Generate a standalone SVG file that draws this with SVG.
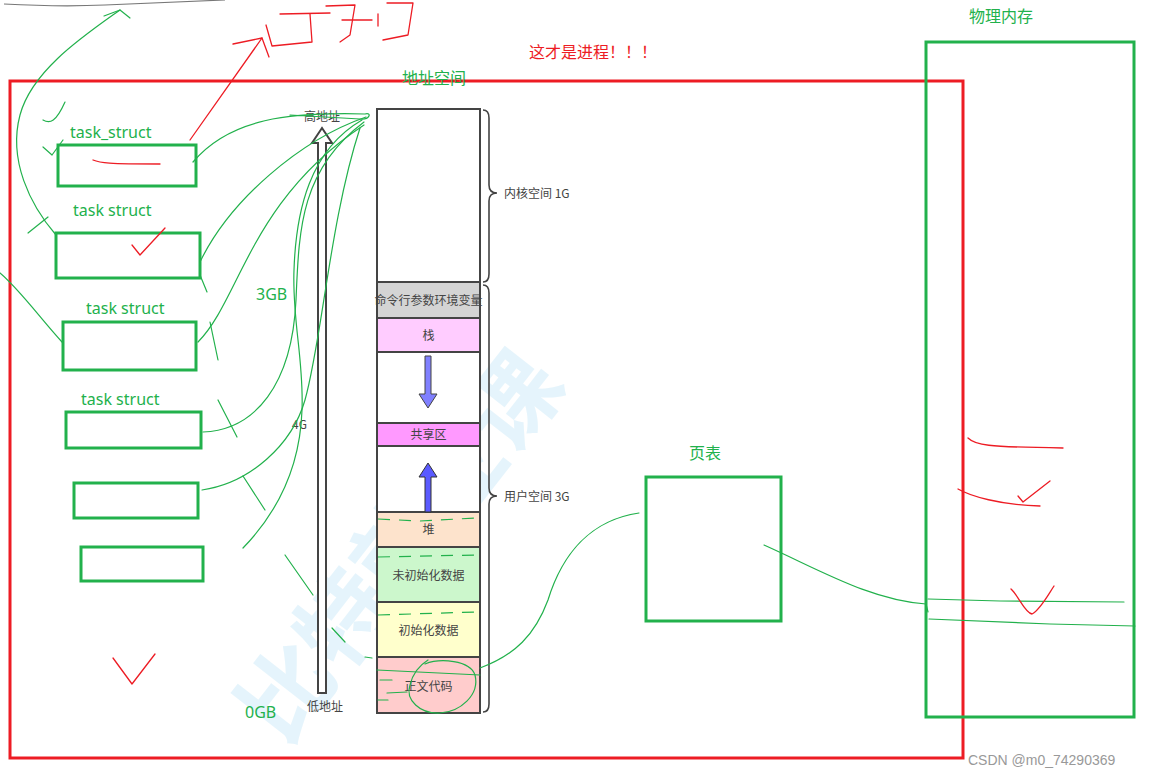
<svg xmlns="http://www.w3.org/2000/svg" width="1158" height="777" viewBox="0 0 1158 777">
<style>
.gbox{fill:none;stroke:#22b14c;stroke-width:3}
.rbox{fill:none;stroke:#ed1c24;stroke-width:3}
.seg{stroke:#444;stroke-width:2}
.gl{fill:none;stroke:#22b14c;stroke-width:1.2;stroke-linecap:round;stroke-linejoin:round}
.rl{fill:none;stroke:#ed1c24;stroke-width:1.3;stroke-linecap:round;stroke-linejoin:round}
.dash{fill:none;stroke:#22b14c;stroke-width:1.2;stroke-dasharray:12 9}
.gt{font-family:"Noto Sans","Noto Sans CJK SC",sans-serif;fill:#22b14c;font-size:16px}
.mt{font-family:"Noto Sans CJK SC","Noto Sans",sans-serif;fill:#444;font-size:12px}
.rt{font-family:"Noto Sans CJK SC",sans-serif;fill:#ed1c24;font-size:16px}
</style>
<rect width="1158" height="777" fill="#fff"/>

<!-- watermark -->
<g id="watermark" opacity="0.4">
<text x="0" y="0" transform="translate(285,748) rotate(-52)" font-family="Noto Sans CJK SC,sans-serif" font-size="92" font-weight="bold" fill="#bfe6f8">比特就业课</text>
</g>

<!-- process boundary -->
<g id="process">
<rect class="rbox" x="10" y="81" width="953" height="677"/>
<text class="rt" x="529" y="58">这才是进程！！！</text>
</g>

<g id="addr-space-title"><text class="gt" x="402" y="84" font-family="Noto Sans CJK SC,sans-serif">地址空间</text></g>

<!-- task structs -->
<g id="task1"><rect class="gbox" x="58" y="145" width="138" height="41"/><text class="gt" x="70" y="138">task_struct</text></g>
<g id="task2"><rect class="gbox" x="56" y="233" width="144" height="45"/><text class="gt" x="73" y="216">task struct</text></g>
<g id="task3"><rect class="gbox" x="63" y="322" width="133" height="48"/><text class="gt" x="86" y="314">task struct</text></g>
<g id="task4"><rect class="gbox" x="66" y="412" width="135" height="36"/><text class="gt" x="81" y="405">task struct</text></g>
<g id="task5"><rect class="gbox" x="74" y="483" width="124" height="35"/></g>
<g id="task6"><rect class="gbox" x="81" y="547" width="122" height="34"/></g>

<g id="labels-gb">
<text class="gt" x="256" y="300">3GB</text>
<text class="gt" x="245" y="718">0GB</text>
<text class="mt" x="292" y="429">4G</text>
</g>

<!-- address arrow -->
<g id="addr-arrow">
<polygon points="318,693 318,143 312,143 322,128 332,143 326,143 326,693" fill="#fff" stroke="#444" stroke-width="2"/>
<text class="mt" x="322" y="121" text-anchor="middle">高地址</text>
<text class="mt" x="325" y="711" text-anchor="middle" font-size="13">低地址</text>
</g>

<!-- memory layout column -->
<g id="memory-layout">
<rect class="seg" x="377" y="109" width="103" height="173" fill="#fff"/>
<rect class="seg" x="377" y="282" width="103" height="36" fill="#d4d4d4"/>
<rect class="seg" x="377" y="318" width="103" height="34" fill="#ffccff"/>
<rect class="seg" x="377" y="352" width="103" height="71" fill="#fff"/>
<rect class="seg" x="377" y="423" width="103" height="23" fill="#ff99ff"/>
<rect class="seg" x="377" y="446" width="103" height="66" fill="#fff"/>
<rect class="seg" x="377" y="512" width="103" height="35" fill="#fde3cc"/>
<rect class="seg" x="377" y="547" width="103" height="55" fill="#ccf7cc"/>
<rect class="seg" x="377" y="602" width="103" height="55" fill="#ffffcc"/>
<rect class="seg" x="377" y="657" width="103" height="56" fill="#ffcccc"/>
<text class="mt" x="428.5" y="305" text-anchor="middle" font-size="11.5">命令行参数环境变量</text>
<text class="mt" x="428.5" y="340" text-anchor="middle">栈</text>
<text class="mt" x="428.5" y="439" text-anchor="middle">共享区</text>
<text class="mt" x="428.5" y="534" text-anchor="middle">堆</text>
<text class="mt" x="428.5" y="580" text-anchor="middle">未初始化数据</text>
<text class="mt" x="428.5" y="635" text-anchor="middle">初始化数据</text>
<text class="mt" x="428.5" y="691" text-anchor="middle">正文代码</text>
<polygon points="425,356 431,356 431,394 437,394 428,408 419,394 425,394" fill="#8080ff" stroke="#444" stroke-width="1"/>
<polygon points="425,512 431,512 431,477 437,477 428,463 419,477 425,477" fill="#5a5aff" stroke="#333" stroke-width="1"/>
<path d="M483,110 Q489,110 489,118 L489,185 Q489,193 497,193 Q489,193 489,201 L489,274 Q489,282 483,282" fill="none" stroke="#444" stroke-width="1.6"/>
<path d="M483,285 Q489,285 489,293 L489,488 Q489,496 497,496 Q489,496 489,504 L489,704 Q489,712 483,712" fill="none" stroke="#444" stroke-width="1.6"/>
<text class="mt" x="504" y="198">内核空间 1G</text>
<text class="mt" x="504" y="501">用户空间 3G</text>
</g>

<!-- page table -->
<g id="page-table">
<rect class="gbox" x="646" y="477" width="135" height="144"/>
<text class="gt" x="689" y="459" font-family="Noto Sans CJK SC,sans-serif">页表</text>
</g>

<!-- physical memory -->
<g id="physical-memory">
<rect class="gbox" x="926" y="42" width="208" height="675"/>
<text class="gt" x="969" y="22" font-size="15" font-family="Noto Sans CJK SC,sans-serif">物理内存</text>
</g>

<!-- hand drawn connectors / annotations -->
<g id="connectors">
<path d="M4,4 Q60,7 105,5 T225,0" fill="none" stroke="#777" stroke-width="1.2"/>
<path class="gl" d="M56,235 C30,205 8,160 20,115 C32,70 85,35 120,10"/>
<path class="gl" d="M104,16 L120,10 L130,18"/>
<path class="gl" d="M43,147 L52,155 L63,140"/>
<path class="gl" d="M43,120 C50,124 56,122 65,102"/>
<path class="gl" d="M28,233 L48,217"/>
<path class="gl" d="M0,273 C20,290 40,318 62,342"/>
<path class="gl" d="M193,162 C230,118 290,112 365,114 C372,112 370,120 360,119 L290,115"/>
<path class="gl" d="M200,262 C230,200 300,140 366,117"/>
<path class="gl" d="M198,342 C240,300 250,200 364,125"/>
<path class="gl" d="M203,432 C255,430 292,385 296,300 C299,230 300,170 364,122"/>
<path class="gl" d="M202,490 C250,483 292,445 305,400 C322,340 330,220 360,128"/>
<path class="gl" d="M243,548 C275,515 300,470 302,410 C304,360 292,320 294,270 C296,210 310,150 362,120"/>
<path class="gl" d="M200,275 L207,292"/>
<path class="gl" d="M210,322 L218,360"/>
<path class="gl" d="M218,400 L237,437"/>
<path class="gl" d="M243,476 L265,510"/>
<path class="gl" d="M285,555 L313,595"/>
<path class="gl" d="M332,628 L345,642"/>
<path class="gl" d="M365,657 L372,658"/>
<path class="dash" d="M378,519 L420,521 L476,518"/>
<path class="dash" d="M378,557 L476,555"/>
<path class="dash" d="M378,615 L476,612"/>
<path class="gl" d="M377,670 L480,675"/>
<path class="gl" d="M380,680 L392,680"/>
<path class="gl" d="M387,693 L407,692"/>
<path class="gl" d="M378,700 L388,700"/>
<path class="gl" d="M425,664 C440,658 470,660 475,675 C480,695 460,712 440,713 C420,714 405,700 410,685 C413,672 420,665 428,660"/>
<path class="gl" d="M480,668 C515,655 535,635 548,600 C562,555 590,520 639,513"/>
<path class="gl" d="M764,545 C820,570 870,600 926,604 L928,612"/>
<path class="gl" d="M928,599 L1000,601 L1124,602"/>
<path class="gl" d="M929,619 L1050,624 L1135,626"/>
</g>

<g id="red-marks">
<path class="rl" d="M190,140 L262,38"/>
<path class="rl" d="M233,44 L262,38 L269,57"/>
<path class="rl" d="M266,25 L272,46 L312,42 L310,14"/>
<path class="rl" d="M280,14 L330,13"/>
<path class="rl" d="M326,6 L355,5 L350,35 L340,42"/>
<path class="rl" d="M342,20 L372,20"/>
<path class="rl" d="M378,14 L378,26"/>
<path class="rl" d="M387,3 L413,3 L408,35 L383,40"/>
<path class="rl" d="M93,160 C100,163 108,164 160,164"/>
<path class="rl" d="M132,245 L140,255 L165,228"/>
<path class="rl" d="M113,658 L132,684 L155,654"/>
<path class="rl" d="M968,438 C975,445 985,447 1063,448"/>
<path class="rl" d="M958,489 C970,496 1000,505 1040,506"/>
<path class="rl" d="M1018,496 L1023,502 L1050,481"/>
<path class="rl" d="M1011,589 C1018,595 1025,613 1032,614 C1040,610 1048,595 1054,586"/>
</g>

<text x="968" y="765" font-family="Liberation Sans,sans-serif" font-size="14" fill="#999">CSDN @m0_74290369</text>
</svg>
